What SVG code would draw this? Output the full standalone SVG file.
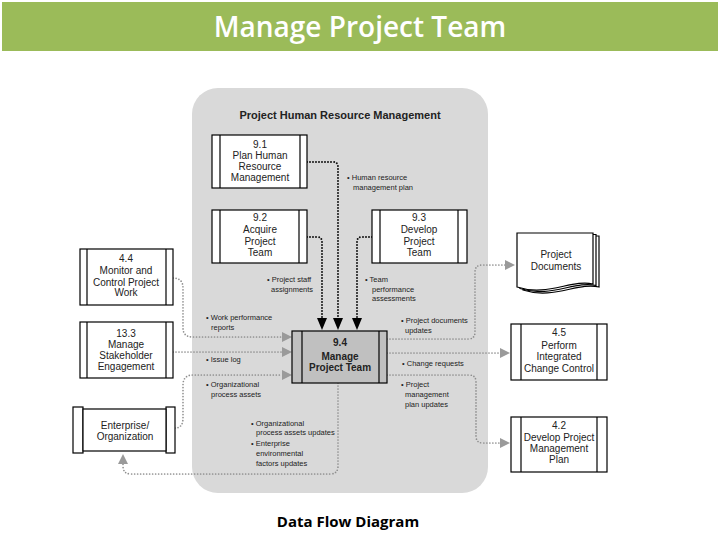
<svg xmlns="http://www.w3.org/2000/svg" width="720" height="540" viewBox="0 0 720 540">
<style>
.box{fill:#fff;stroke:#000;stroke-width:1.2}
.nt{font-family:"Liberation Sans",Arial,sans-serif;font-size:10px;fill:#222;text-anchor:middle}
.lb{font-family:"Liberation Sans",Arial,sans-serif;font-size:7.5px;fill:#222}
.blk{fill:none;stroke:#111;stroke-width:2;stroke-dasharray:0 3;stroke-linecap:round}
.gry{fill:none;stroke:#8f8f8f;stroke-width:1.7;stroke-dasharray:0 3;stroke-linecap:round}
.ba{fill:#000}
.ga{fill:#9a9a9a}
</style>
<rect x="0" y="0" width="720" height="540" fill="#fff"/>
<rect x="2" y="2" width="716" height="49" fill="#9bbb59"/>
<text x="360" y="37" font-family="Open Sans,Liberation Sans,sans-serif" font-size="28" font-weight="600" fill="#fff" text-anchor="middle">Manage Project Team</text>
<rect x="192" y="88" width="296" height="405" rx="26" fill="#d9d9d9"/>
<text x="340" y="119" font-family="Liberation Sans,Arial,sans-serif" font-size="11" font-weight="bold" fill="#222" text-anchor="middle">Project Human Resource Management</text>

<g id="connectors">
<path class="blk" d="M307 162 H333 Q338 162 338 167 V318"/>
<polygon class="ba" points="333,318 343,318 338,330"/>
<path class="blk" d="M307 237 H317 Q322 237 322 242 V318"/>
<polygon class="ba" points="317,318 327,318 322,330"/>
<path class="blk" d="M372 237 H362 Q357 237 357 242 V318"/>
<polygon class="ba" points="352,318 362,318 357,330"/>
<path class="gry" d="M173 278 Q183 278 183 288 V328 Q183 337 193 337 H282"/>
<polygon class="ga" points="282,332 282,342 292,337"/>
<path class="gry" d="M173 352 H282"/>
<polygon class="ga" points="282,347 282,357 292,352"/>
<path class="gry" d="M175 428 Q183 428 183 418 V385 Q183 375 193 375 H282"/>
<polygon class="ga" points="282,370 282,380 292,375"/>
<path class="gry" d="M338 383 V466 Q338 474 330 474 H131 Q123 474 123 466 V464"/>
<polygon class="ga" points="118,464 128,464 123,454"/>
<path class="gry" d="M387 339 H468 Q475 339 475 332 V272 Q475 265 482 265 H505"/>
<polygon class="ga" points="505,260 505,270 515,265"/>
<path class="gry" d="M387 353 H500"/>
<polygon class="ga" points="500,348 500,358 510,353"/>
<path class="gry" d="M387 375 H469 Q476 375 476 382 V436 Q476 443 483 443 H500"/>
<polygon class="ga" points="500,438 500,448 510,443"/>
</g>

<g id="labels">
<text class="lb" x="347" y="180">• Human resource</text>
<text class="lb" x="353" y="190">management plan</text>
<text class="lb" x="267" y="282">• Project staff</text>
<text class="lb" x="271" y="292">assignments</text>
<text class="lb" x="365" y="282">• Team</text>
<text class="lb" x="372" y="292">performance</text>
<text class="lb" x="372" y="301">assessments</text>
<text class="lb" x="206" y="320">• Work performance</text>
<text class="lb" x="211" y="330">reports</text>
<text class="lb" x="206" y="362">• Issue log</text>
<text class="lb" x="206" y="387">• Organizational</text>
<text class="lb" x="211" y="397">process assets</text>
<text class="lb" x="401" y="323">• Project documents</text>
<text class="lb" x="405" y="333">updates</text>
<text class="lb" x="402" y="366">• Change requests</text>
<text class="lb" x="401" y="387">• Project</text>
<text class="lb" x="405" y="397">management</text>
<text class="lb" x="405" y="407">plan updates</text>
<text class="lb" x="251" y="426">• Organizational</text>
<text class="lb" x="256" y="435">process assets updates</text>
<text class="lb" x="251" y="446">• Enterprise</text>
<text class="lb" x="256" y="456">environmental</text>
<text class="lb" x="256" y="466">factors updates</text>
</g>

<g id="n91">
<rect class="box" x="212" y="135" width="95" height="53"/>
<line x1="220" y1="135" x2="220" y2="188" stroke="#000" stroke-width="1.2"/>
<line x1="300" y1="135" x2="300" y2="188" stroke="#000" stroke-width="1.2"/>
<text class="nt" x="260" y="148">9.1</text>
<text class="nt" x="260" y="159">Plan Human</text>
<text class="nt" x="260" y="170">Resource</text>
<text class="nt" x="260" y="181">Management</text>
</g>
<g id="n92">
<rect class="box" x="212" y="210" width="95" height="53"/>
<line x1="220" y1="210" x2="220" y2="263" stroke="#000" stroke-width="1.2"/>
<line x1="299" y1="210" x2="299" y2="263" stroke="#000" stroke-width="1.2"/>
<text class="nt" x="260" y="221">9.2</text>
<text class="nt" x="260" y="233">Acquire</text>
<text class="nt" x="260" y="245">Project</text>
<text class="nt" x="260" y="256">Team</text>
</g>
<g id="n93">
<rect class="box" x="372" y="210" width="95" height="53"/>
<line x1="380" y1="210" x2="380" y2="263" stroke="#000" stroke-width="1.2"/>
<line x1="458" y1="210" x2="458" y2="263" stroke="#000" stroke-width="1.2"/>
<text class="nt" x="419" y="221">9.3</text>
<text class="nt" x="419" y="233">Develop</text>
<text class="nt" x="419" y="245">Project</text>
<text class="nt" x="419" y="256">Team</text>
</g>
<g id="n44">
<rect class="box" x="80" y="249" width="93" height="56"/>
<line x1="87" y1="249" x2="87" y2="305" stroke="#000" stroke-width="1.2"/>
<line x1="166" y1="249" x2="166" y2="305" stroke="#000" stroke-width="1.2"/>
<text class="nt" x="126" y="262">4.4</text>
<text class="nt" x="126" y="274">Monitor and</text>
<text class="nt" x="126" y="286">Control Project</text>
<text class="nt" x="126" y="296">Work</text>
</g>
<g id="n133">
<rect class="box" x="80" y="322" width="93" height="56"/>
<line x1="87" y1="322" x2="87" y2="378" stroke="#000" stroke-width="1.2"/>
<line x1="166" y1="322" x2="166" y2="378" stroke="#000" stroke-width="1.2"/>
<text class="nt" x="126" y="337">13.3</text>
<text class="nt" x="126" y="348">Manage</text>
<text class="nt" x="126" y="359">Stakeholder</text>
<text class="nt" x="126" y="370">Engagement</text>
</g>
<g id="n94">
<rect x="292" y="331" width="95" height="52" fill="#c0c0c0" stroke="#000" stroke-width="1.2"/>
<line x1="302" y1="331" x2="302" y2="383" stroke="#000" stroke-width="1.2"/>
<line x1="379" y1="331" x2="379" y2="383" stroke="#000" stroke-width="1.2"/>
<text class="nt" x="340" y="346" font-weight="bold" font-size="10.5">9.4</text>
<text class="nt" x="340" y="360" font-weight="bold" font-size="10.5">Manage</text>
<text class="nt" x="340" y="371" font-weight="bold" font-size="10.5">Project Team</text>
</g>
<g id="nent">
<rect class="box" x="73" y="407" width="10" height="46"/>
<rect class="box" x="166" y="407" width="9" height="46"/>
<rect class="box" x="83" y="409" width="83" height="42"/>
<text class="nt" x="125" y="429">Enterprise/</text>
<text class="nt" x="125" y="440">Organization</text>
</g>
<g id="ndocs">
<path class="box" d="M523 236 H599 V287 C578 282 553 300 523 290 Z"/>
<path class="box" d="M520 234.5 H596 V285.5 C575 280.5 550 298.5 520 288.5 Z"/>
<path class="box" d="M517 233 H593 V284 C572 279 547 297 517 287 Z"/>
<text class="nt" x="556" y="258">Project</text>
<text class="nt" x="556" y="270">Documents</text>
</g>
<g id="n45">
<rect class="box" x="511" y="324" width="96" height="56"/>
<line x1="521" y1="324" x2="521" y2="380" stroke="#000" stroke-width="1.2"/>
<line x1="597" y1="324" x2="597" y2="380" stroke="#000" stroke-width="1.2"/>
<text class="nt" x="559" y="336">4.5</text>
<text class="nt" x="559" y="349">Perform</text>
<text class="nt" x="559" y="360">Integrated</text>
<text class="nt" x="559" y="372">Change Control</text>
</g>
<g id="n42">
<rect class="box" x="511" y="417" width="96" height="55"/>
<line x1="521" y1="417" x2="521" y2="472" stroke="#000" stroke-width="1.2"/>
<line x1="597" y1="417" x2="597" y2="472" stroke="#000" stroke-width="1.2"/>
<text class="nt" x="559" y="429">4.2</text>
<text class="nt" x="559" y="441">Develop Project</text>
<text class="nt" x="559" y="452">Management</text>
<text class="nt" x="559" y="463">Plan</text>
</g>
<text x="348" y="527" font-family="Open Sans,Liberation Sans,sans-serif" font-size="15" font-weight="bold" fill="#000" text-anchor="middle">Data Flow Diagram</text>
</svg>
